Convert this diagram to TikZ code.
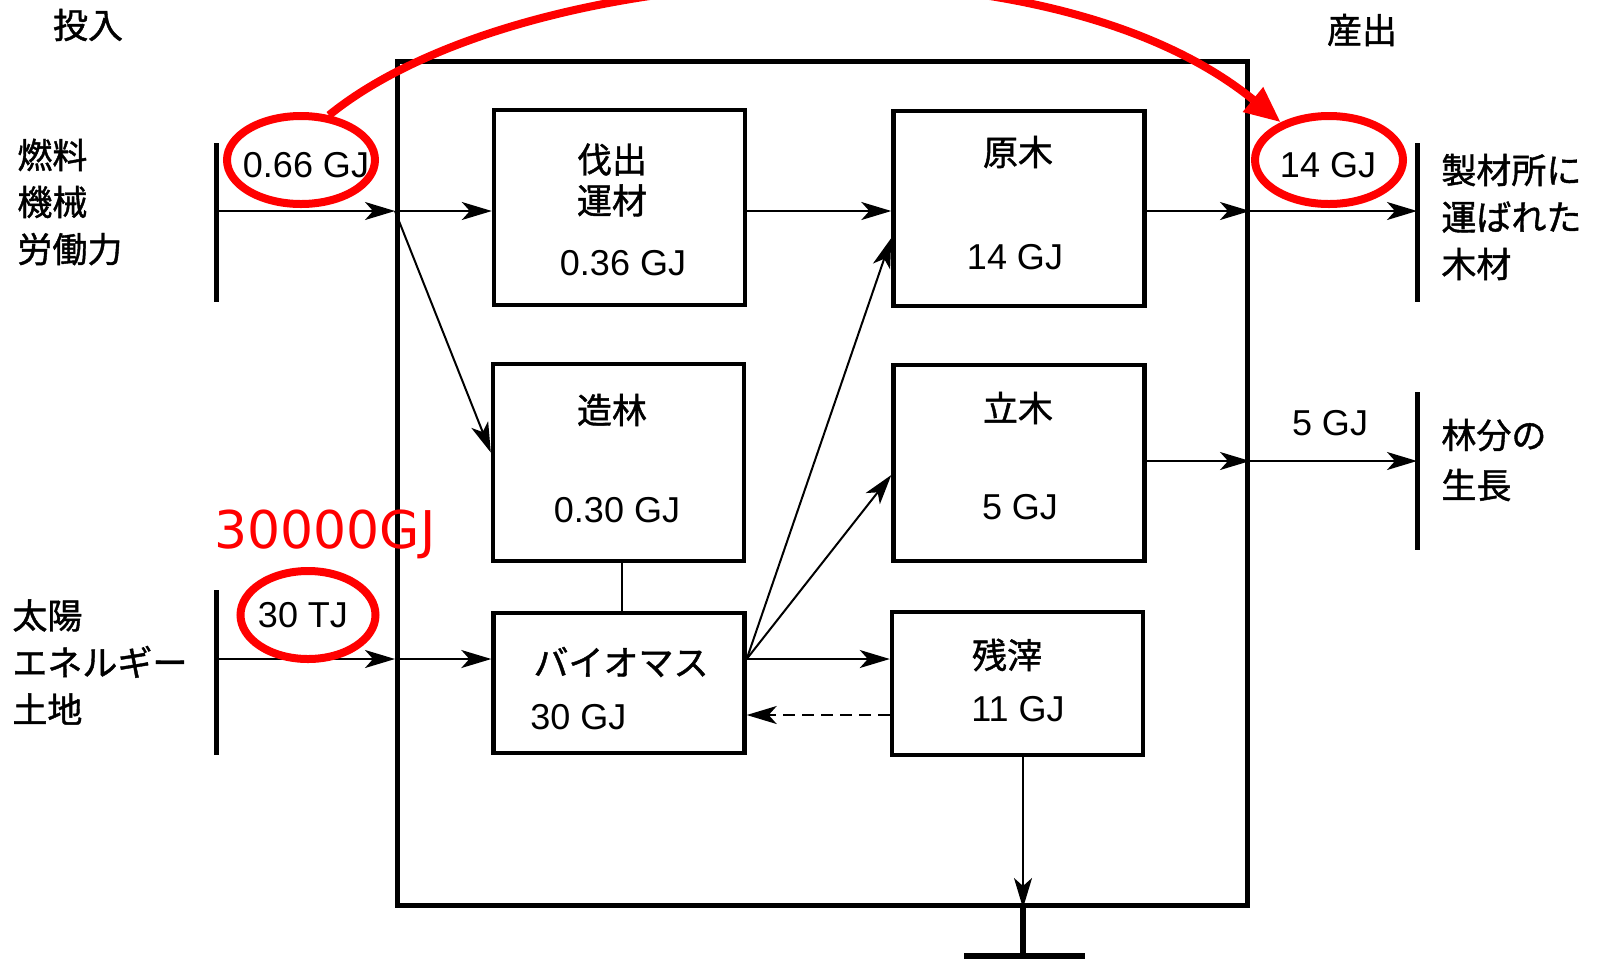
\documentclass[tikz,border=0pt]{standalone}
\usepackage{fontspec}
\setmainfont{Liberation Sans}
\newfontfamily\jp[FakeBold=1.2]{Noto Sans CJK JP}
\newfontfamily\dv{DejaVu Sans}
\usetikzlibrary{arrows.meta,shapes.geometric,calc}
\begin{document}
\begin{tikzpicture}[x=0.5pt,y=-0.5pt,
 box/.style={draw,line width=2.2pt,inner sep=0,minimum width=125.5pt},
 arr/.style={line width=1pt,-{Stealth[length=15pt,width=9pt,inset=4pt]}},
 ln/.style={line width=1pt},
 bar/.style={line width=2.5pt},
 jt/.style={font=\jp\fontsize{17.5}{23.5}\selectfont, inner sep=0},
 num/.style={font=\fontsize{18}{20}\selectfont, inner sep=0},
 oval/.style={draw=red, line width=4pt, ellipse, inner sep=0, minimum width=74pt, minimum height=44pt},
]
\useasboundingbox[fill=white] (0,0) rectangle (1600,960);

% outer box
\node[draw, line width=2.5pt, inner sep=0, minimum width=425pt, minimum height=422pt] (outer) at (822.5,483.5) {};

% inner boxes
\node[box, minimum height=97.5pt] (bf) at (619.5,207.5) {};
\node[box, minimum height=97.5pt] (gw) at (1019,208.5) {};
\node[box, minimum height=98.5pt] (zr) at (618.5,462.5) {};
\node[box, minimum height=98pt] (tb) at (1019,463) {};
\node[box, minimum height=70pt] (bm) at (619,683) {};
\node[box, minimum height=71.5pt] (zs) at (1017.5,683.5) {};

% bars
\coordinate (i1t) at (216,143); \coordinate (i1b) at (216,302); \coordinate (i1) at (216,211);
\coordinate (i2t) at (216,590); \coordinate (i2b) at (216,755); \coordinate (i2) at (216,659);
\coordinate (o1t) at (1417,143); \coordinate (o1b) at (1417,302);
\coordinate (o2t) at (1417,392); \coordinate (o2b) at (1417,550); \coordinate (o2) at (1417,461);
\draw[bar] (i1t) -- (i1b);
\draw[bar] (i2t) -- (i2b);
\draw[bar] (o1t) -- (o1b);
\draw[bar] (o2t) -- (o2b);

% connectors
\draw[arr] (i1) -- (i1 -| outer.west);
\draw[arr] (i1 -| outer.west) -- (i1 -| bf.west);
\draw[arr] (i1 -| outer.west) -- ([yshift=5pt]zr.west);
\draw[arr] (i1 -| bf.east) -- (i1 -| gw.west);
\draw[arr] (i1 -| gw.east) -- (i1 -| outer.east);
\draw[arr] (i1 -| outer.east) -- (i1 -| o1t);
\draw[arr] (o2 -| tb.east) -- (o2 -| outer.east);
\draw[arr] (o2 -| outer.east) -- (o2);
\draw[arr] (i2) -- (i2 -| outer.west);
\draw[arr] (i2 -| outer.west) -- (i2 -| bm.west);
\draw[arr] (i2 -| bm.east) -- (i2 -| zs.west);
\draw[arr] (i2 -| bm.east) -- ([yshift=-14.75pt]gw.west);
\draw[arr] (i2 -| bm.east) -- ([yshift=-6pt]tb.west);
\coordinate (d) at (890,715);
\draw[arr, dash pattern=on 6pt off 3.5pt] (d -| zs.west) -- (d -| bm.east);
\coordinate (c) at (622,0);
\draw[ln] (c |- zr.south) -- (c |- bm.north);
\coordinate (g) at (1023,956);
\coordinate (gl) at (964,956); \coordinate (gr) at (1085,956);
\draw[arr] (g |- zs.south) -- (g |- outer.south);
\draw[line width=3pt] (g |- outer.south) -- (g);
\draw[line width=3pt] (gl) -- (gr);

% texts
\node[jt] (tIn) at (88,25) {投入};
\node[jt] (tOut) at (1362,30) {産出};
\node[jt, align=left, anchor=west] (lab1) at (17,202) {燃料\\機械\\労働力};
\node[jt, align=left, anchor=west] (lab2) at (12,662) {太陽\\エネルギー\\土地};
\node[jt, align=left, anchor=west] (lab3) at (1441,217) {製材所に\\運ばれた\\木材};
\node[jt, align=left, anchor=west, font=\jp\fontsize{17.5}{25}\selectfont] (lab4) at (1441,460) {林分の\\生長};

\node[jt, align=center, font=\jp\fontsize{17.5}{20.5}\selectfont] (tbf) at (612,180) {伐出\\運材};
\node[num] (nbf) at (623,263) {0.36 GJ};
\node[jt] (tzr) at (612,410) {造林};
\node[num] (nzr) at (617,510) {0.30 GJ};
\node[jt] (tgw) at (1018,152) {原木};
\node[num] (ngw) at (1015,257) {14 GJ};
\node[jt] (ttb) at (1018,408) {立木};
\node[num] (ntb) at (1020,507) {5 GJ};
\node[jt] (tbm) at (621,662) {バイオマス};
\node[num, anchor=west] (nbm) at (530,717) {30 GJ};
\node[jt] (tzs) at (1007,655) {残滓};
\node[num] (nzs) at (1018,709) {11 GJ};

\node[num] (n1) at (306,165) {0.66 GJ};
\node[num] (n2) at (303,615) {30 TJ};
\node[num] (n3) at (1328,165) {14 GJ};
\node[num] (n4) at (1330,423) {5 GJ};
\node[font=\dv\fontsize{26}{28}\selectfont, text=red, anchor=base west, inner sep=0] (red) at (214,548) {30000GJ};

% red annotations
\node[oval] (e1) at (301,160) {};
\node[oval, minimum width=67.5pt] (e2) at (308,615) {};
\node[oval] (e3) at (1329,160) {};
\draw[red, line width=4pt, -{Triangle[length=18pt,width=15pt]}] (e1.58) .. controls (520,-40) and (1040,-75) .. (e3.142);
\end{tikzpicture}
\end{document}
